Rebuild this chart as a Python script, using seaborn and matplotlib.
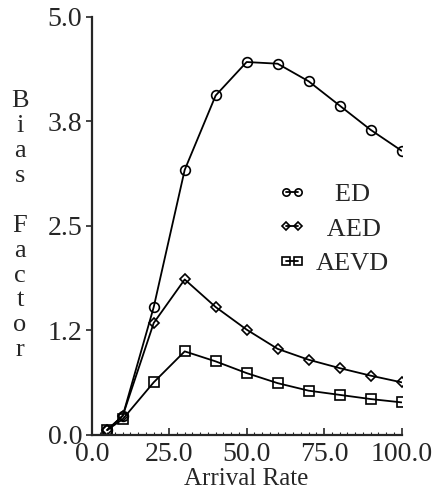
import numpy as np
import pandas as pd
import matplotlib
matplotlib.use("Agg")
import matplotlib.pyplot as plt
import seaborn as sns
from matplotlib.ticker import MultipleLocator

arrival_rate = [5, 10, 20, 30, 40, 50, 60, 70, 80, 90, 100]
ed = [0.06, 0.23, 1.53, 3.17, 4.06, 4.46, 4.44, 4.23, 3.94, 3.65, 3.40]
aed = [0.06, 0.23, 1.34, 1.86, 1.53, 1.26, 1.03, 0.90, 0.80, 0.71, 0.63]
aevd = [0.06, 0.19, 0.63, 1.00, 0.88, 0.74, 0.62, 0.53, 0.48, 0.43, 0.39]

series_names = ["ED", "AED", "AEVD"]
y_ticks = [0.0, 1.25, 2.5, 3.75, 5.0]
y_tick_labels = ["0.0", "1.2", "2.5", "3.8", "5.0"]
x_ticks = [0, 25, 50, 75, 100]
x_tick_labels = ["0.0", "25.0", "50.0", "75.0", "100.0"]

df = pd.DataFrame({
    "rate": arrival_rate * 3,
    "bias": ed + aed + aevd,
    "method": [m for m in series_names for _ in arrival_rate],
})

sns.set_style("ticks")
plt.rcParams["font.family"] = ["Liberation Serif", "DejaVu Serif"]

fig = plt.figure(figsize=(4.35, 4.96), dpi=100)
ax = fig.add_axes([0.211, 0.123, 0.712, 0.843])

sns.lineplot(
    data=df, x="rate", y="bias", style="method", markers=["o", "D", "s"],
    dashes=False, color="black", ax=ax, linewidth=1.3,
    markersize=7, markerfacecolor="none", markeredgecolor="black",
    markeredgewidth=1.2, legend=False,
)
# diamond a bit smaller than the others
for line, ms in zip(ax.lines[:3], [7, 5.5, 7]):
    line.set_markersize(ms)

ax.set_xlim(0, 100)
ax.set_ylim(0, 5.0)
ax.set_xticks(x_ticks)
ax.set_xticklabels(x_tick_labels)
ax.set_yticks(y_ticks)
ax.set_yticklabels(y_tick_labels)
ax.xaxis.set_minor_locator(MultipleLocator(2.5))
ax.tick_params(axis="x", direction="in", length=5, width=1.2, labelsize=20, pad=5)
ax.tick_params(axis="x", which="minor", direction="in", length=2, width=0.8)
ax.tick_params(axis="y", direction="out", length=4, width=1.2, labelsize=20, pad=3)
for s in ["top", "right"]:
    ax.spines[s].set_visible(False)
for s in ["left", "bottom"]:
    ax.spines[s].set_linewidth(1.6)

ax.set_xlabel("Arrival Rate", fontsize=18, labelpad=1)
ax.set_ylabel("")
fig.text(0.046, 0.818, "B\ni\na\ns\n\nF\na\nc\nt\no\nr", fontsize=19,
         ha="center", va="top", linespacing=1.17)

# legend: padded labels so the names sit centred like the original
legend_labels = ["   ED", "  AED", "AEVD"]
leg = ax.legend(ax.lines[:3], legend_labels, loc="upper left",
                bbox_to_anchor=(0.56, 0.635), frameon=False, fontsize=19,
                numpoints=2, handlelength=1.05, handletextpad=0.35,
                labelspacing=0.42, markerscale=0.75, borderpad=0)

fig.savefig("out.png", dpi=100)
